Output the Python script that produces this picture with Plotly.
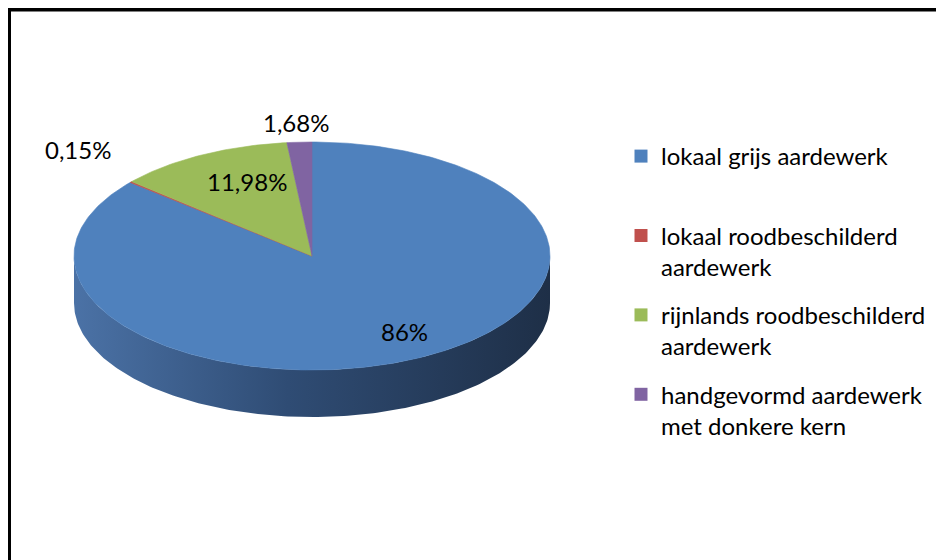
import numpy as np
import plotly.graph_objects as go

# ---- data ----
categories = ["lokaal grijs aardewerk",
              "lokaal roodbeschilderd<br>aardewerk",
              "rijnlands roodbeschilderd<br>aardewerk",
              "handgevormd aardewerk<br>met donkere kern"]
values = [86, 0.15, 11.98, 1.68]
colors = ["#4F81BD", "#C0504D", "#9BBB59", "#8064A2"]

# ---- geometry of the 3D-like pie (screen pixel space) ----
CX, CY, RX, RY, DEPTH = 312, 256, 238, 114, 47
W, H = 944, 560
OFF = 8  # page body margin


def ell(theta, dy=0.0):
    # theta: clockwise from 12 o'clock, radians
    return CX + RX * np.sin(theta), CY - RY * np.cos(theta) + dy


fig = go.Figure()

# side wall (front half)
th = np.linspace(np.pi / 2, 3 * np.pi / 2, 200)
xt, yt = ell(th)
xb, yb = ell(th[::-1], DEPTH)
fig.add_trace(go.Scatter(
    x=np.concatenate([xt, xb]), y=np.concatenate([yt, yb]),
    mode="lines", line=dict(width=0), fill="toself",
    fillgradient=dict(type="horizontal",
                      colorscale=[[0, "#4B72A6"], [0.45, "#2F4C74"], [1, "#1E2F47"]]),
    hoverinfo="skip", showlegend=False))

# top slices
total = sum(values)
start = 0.0
label_pos = [(404, 331), (78, 149), (247, 181), (296, 122)]
for v, c, name in zip(values, colors, categories):
    a0 = start / total * 2 * np.pi
    a1 = (start + v) / total * 2 * np.pi
    n = max(3, int(400 * v / total))
    th = np.linspace(a0, a1, n)
    ex, ey = ell(th)
    fig.add_trace(go.Scatter(
        x=np.concatenate([[CX], ex, [CX]]), y=np.concatenate([[CY], ey, [CY]]),
        mode="lines", line=dict(width=0.6, color=c), fill="toself", fillcolor=c,
        hoverinfo="skip", showlegend=False))
    start += v

# legend entries
for i, (name, c) in enumerate(zip(categories, colors)):
    text = name if "<br>" in name else name + "<br> "
    fig.add_trace(go.Scatter(
        x=[None], y=[None], mode="markers", name=text, legendgroup=str(i),
        marker=dict(symbol="square", size=13, color=c)))

# labels
def fmt(v):
    return f"{v:g}".replace(".", ",") + "%"

for v, (lx, ly) in zip(values, label_pos):
    fig.add_annotation(x=lx, y=ly, text=fmt(v), showarrow=False,
                       font=dict(family="Lato", size=24, color="#000000"))

# frame
fig.add_shape(type="line", x0=7, x1=W + 20, y0=6.5, y1=6.5,
              line=dict(color="#B0B0B0", width=1), layer="above")
fig.add_shape(type="rect", x0=9, x1=W + 30, y0=9.5, y1=H + 30,
              line=dict(color="#000000", width=4), layer="above")

fig.update_layout(
    width=W, height=H, margin=dict(l=0, r=0, t=0, b=0),
    paper_bgcolor="white", plot_bgcolor="white",
    xaxis=dict(range=[OFF, W + OFF], visible=False, fixedrange=True),
    yaxis=dict(range=[H + OFF, OFF], visible=False, fixedrange=True),
    font=dict(family="Lato", size=24, color="#000000"),
    legend=dict(x=(621 - OFF) / W, y=1 - (134 - OFF) / H, xanchor="left", yanchor="top",
                valign="top", tracegroupgap=14, itemclick=False,
                bgcolor="rgba(0,0,0,0)", font=dict(family="Lato", size=24)),
    showlegend=True,
)

fig.write_html("out.html")
